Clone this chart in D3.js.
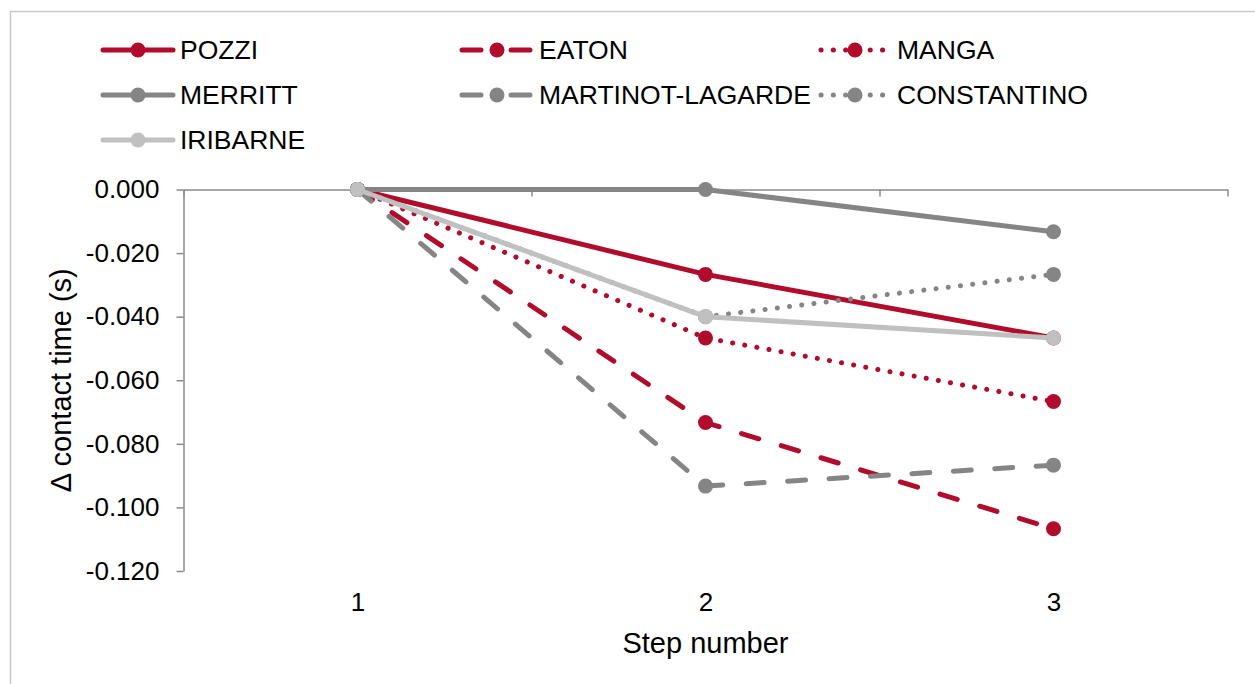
<!DOCTYPE html>
<html>
<head>
<meta charset="utf-8">
<script src="https://cdn.jsdelivr.net/npm/d3@7"></script>
<style>
  html, body { margin: 0; padding: 0; background: #fff; }
  svg { display: block; font-family: "Liberation Sans", Arial, sans-serif; }
</style>
</head>
<body>
<svg id="chart" width="1255" height="684"></svg>
<script>
// ---- Data ----
const categories = [1, 2, 3];
const seriesNames = ["POZZI", "EATON", "MANGA", "MERRITT", "MARTINOT-LAGARDE", "CONSTANTINO", "IRIBARNE"];
const pozzi       = [0, -0.0267, -0.0467];
const eaton       = [0, -0.0733, -0.1067];
const manga       = [0, -0.0467, -0.0667];
const merritt     = [0, 0.0,     -0.0133];
const martinot    = [0, -0.0933, -0.0867];
const constantino = [0, -0.0400, -0.0267];
const iribarne    = [0, -0.0400, -0.0467];
const yTickValues = [0, -0.02, -0.04, -0.06, -0.08, -0.10, -0.12];
const yTitle = "\u0394 contact time (s)";
const xTitle = "Step number";

(function () {
// ---- Styles ----
const RED = "#B10C2B", GRAY = "#858585", LIGHT = "#C0C0C0";
const DASH = "18,23.5", DOT = "0.1,12.2";
const LW = 5, MR = 7.5;
const series = [
  { name: seriesNames[0], values: pozzi,       color: RED,   dash: null },
  { name: seriesNames[1], values: eaton,       color: RED,   dash: DASH },
  { name: seriesNames[2], values: manga,       color: RED,   dash: DOT },
  { name: seriesNames[3], values: merritt,     color: GRAY,  dash: null },
  { name: seriesNames[4], values: martinot,    color: GRAY,  dash: DASH },
  { name: seriesNames[5], values: constantino, color: GRAY,  dash: DOT },
  { name: seriesNames[6], values: iribarne,    color: LIGHT, dash: null }
];

const svg = d3.select("#chart");

// outer border
svg.append("rect")
  .attr("x", 10.5).attr("y", 11.5).attr("width", 1300).attr("height", 700)
  .attr("fill", "none").attr("stroke", "#C8C8C8").attr("stroke-width", 1.5);

const pLeft = 183.5, pRight = 1227.5, pTop = 189.5, pBottom = 571;
const x = d3.scaleLinear().domain([0.5, 3.5]).range([pLeft, pRight]);
const y = d3.scaleLinear().domain([-0.12, 0]).range([pBottom, pTop]);

const AXIS = "#8A8A8A";

// Y axis
const yAxis = svg.append("g")
  .attr("transform", `translate(${pLeft},0)`)
  .call(d3.axisLeft(y).tickValues(yTickValues).tickSizeInner(7).tickSizeOuter(0)
        .tickPadding(17).tickFormat(d => d.toFixed(3)));
yAxis.select(".domain").attr("stroke", AXIS).attr("stroke-width", 1.5);
yAxis.selectAll(".tick line").attr("stroke", AXIS).attr("stroke-width", 1.5);
yAxis.selectAll(".tick text").attr("font-size", 26).attr("fill", "#000")
  .attr("font-family", "Liberation Sans, Arial, sans-serif");

// X axis line at y=0 with boundary ticks
const xAxis = svg.append("g")
  .attr("transform", `translate(0,${y(0)})`)
  .call(d3.axisBottom(x).tickValues([0.5, 1.5, 2.5, 3.5]).tickSizeInner(7).tickSizeOuter(0).tickFormat(""));
xAxis.select(".domain").attr("stroke", AXIS).attr("stroke-width", 1.5);
xAxis.selectAll(".tick line").attr("stroke", AXIS).attr("stroke-width", 1.5);

// X category labels at the bottom
const xLab = svg.append("g")
  .attr("transform", `translate(0,593)`)
  .call(d3.axisBottom(x).tickValues(categories).tickSize(0).tickPadding(0).tickFormat(d => String(d)));
xLab.select(".domain").remove();
xLab.selectAll(".tick text").attr("font-size", 26).attr("fill", "#000")
  .attr("dy", "0.71em").attr("font-family", "Liberation Sans, Arial, sans-serif");

// Axis titles
svg.append("text")
  .attr("x", (pLeft + pRight) / 2).attr("y", 653)
  .attr("text-anchor", "middle").attr("font-size", 29).attr("fill", "#000")
  .text(xTitle);
svg.append("text")
  .attr("transform", `translate(71,${(pTop + pBottom) / 2}) rotate(-90)`)
  .attr("text-anchor", "middle").attr("font-size", 29).attr("fill", "#000")
  .text(yTitle);

// Lines and markers
const line = d3.line().x((d, i) => x(categories[i])).y(d => y(d));
const plot = svg.append("g");
series.forEach(s => {
  plot.append("path")
    .datum(s.values)
    .attr("d", line)
    .attr("fill", "none")
    .attr("stroke", s.color)
    .attr("stroke-width", LW)
    .attr("stroke-linecap", "round")
    .attr("stroke-linejoin", "round")
    .attr("stroke-dasharray", s.dash);
  plot.selectAll(null).data(s.values).enter().append("circle")
    .attr("cx", (d, i) => x(categories[i]))
    .attr("cy", d => y(d))
    .attr("r", MR)
    .attr("fill", s.color);
});

// Legend
const legCols = [103, 462, 820];
const legRows = [50, 95, 140];
series.forEach((s, i) => {
  const cx = legCols[i % 3], cy = legRows[Math.floor(i / 3)];
  const g = svg.append("g");
  g.append("line")
    .attr("x1", cx).attr("x2", cx + 70).attr("y1", cy).attr("y2", cy)
    .attr("stroke", s.color).attr("stroke-width", LW)
    .attr("stroke-linecap", "round")
    .attr("stroke-dasharray", s.dash === DASH ? "19,30" : s.dash)
    .attr("stroke-dashoffset", s.dash === DOT ? -1 : 0);
  g.append("circle").attr("cx", cx + 35).attr("cy", cy).attr("r", MR).attr("fill", s.color);
  g.append("text")
    .attr("x", cx + 77).attr("y", cy + 9)
    .attr("font-size", 26.5).attr("fill", "#000")
    .text(s.name);
});
})();
</script>
</body>
</html>
